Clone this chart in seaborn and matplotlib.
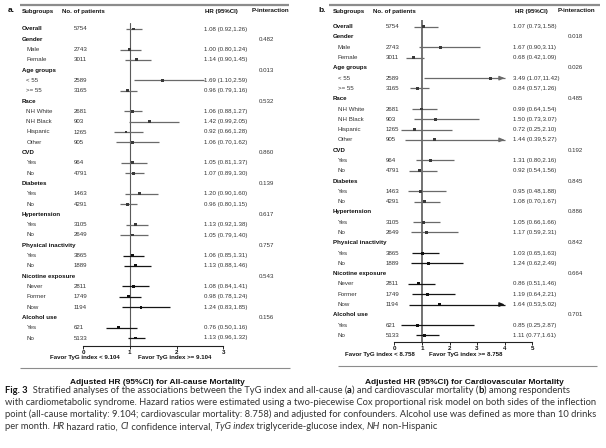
import numpy as np
import pandas as pd
import matplotlib
matplotlib.use("Agg")
import matplotlib.pyplot as plt
import seaborn as sns

# ---------------- data ----------------
subgroups = ["Overall", "Gender", "Male", "Female", "Age groups", "< 55", ">= 55",
             "Race", "NH White", "NH Black", "Hispanic", "Other", "CVD", "Yes", "No",
             "Diabetes", "Yes", "No", "Hypertension", "Yes", "No",
             "Physical inactivity", "Yes", "No", "Nicotine exposure", "Never", "Former", "Now",
             "Alcohol use", "Yes", "No"]
is_header = [1, 1, 0, 0, 1, 0, 0, 1, 0, 0, 0, 0, 1, 0, 0, 1, 0, 0, 1, 0, 0,
             1, 0, 0, 1, 0, 0, 0, 1, 0, 0]
nan = np.nan
n_patients = [5754, nan, 2743, 3011, nan, 2589, 3165, nan, 2681, 903, 1265, 905, nan, 964, 4791,
              nan, 1463, 4291, nan, 3105, 2649, nan, 3865, 1889, nan, 2811, 1749, 1194, nan, 621, 5133]

hr_a = [1.08, nan, 1.00, 1.14, nan, 1.69, 0.96, nan, 1.06, 1.42, 0.92, 1.06, nan, 1.05, 1.07,
        nan, 1.20, 0.96, nan, 1.13, 1.05, nan, 1.06, 1.13, nan, 1.08, 0.98, 1.24, nan, 0.76, 1.13]
lo_a = [0.92, nan, 0.80, 0.90, nan, 1.10, 0.79, nan, 0.88, 0.99, 0.66, 0.70, nan, 0.81, 0.89,
        nan, 0.90, 0.80, nan, 0.92, 0.79, nan, 0.85, 0.88, nan, 0.84, 0.78, 0.83, nan, 0.50, 0.96]
hi_a = [1.26, nan, 1.24, 1.45, nan, 2.59, 1.16, nan, 1.27, 2.05, 1.28, 1.62, nan, 1.37, 1.30,
        nan, 1.60, 1.15, nan, 1.38, 1.40, nan, 1.31, 1.46, nan, 1.41, 1.24, 1.85, nan, 1.16, 1.32]
p_a = ["", "0.482", "", "", "0.013", "", "", "0.532", "", "", "", "", "0.860", "", "",
       "0.139", "", "", "0.617", "", "", "0.757", "", "", "0.543", "", "", "", "0.156", "", ""]

hr_b = [1.07, nan, 1.67, 0.68, nan, 3.49, 0.84, nan, 0.99, 1.50, 0.72, 1.44, nan, 1.31, 0.92,
        nan, 0.95, 1.08, nan, 1.05, 1.17, nan, 1.03, 1.24, nan, 0.86, 1.19, 1.64, nan, 0.85, 1.11]
lo_b = [0.73, nan, 0.90, 0.42, nan, 1.07, 0.57, nan, 0.64, 0.73, 0.25, 0.39, nan, 0.80, 0.54,
        nan, 0.48, 0.70, nan, 0.66, 0.59, nan, 0.65, 0.62, nan, 0.51, 0.64, 0.53, nan, 0.25, 0.77]
hi_b = [1.58, nan, 3.11, 1.09, nan, 11.42, 1.26, nan, 1.54, 3.07, 2.10, 5.27, nan, 2.16, 1.56,
        nan, 1.88, 1.67, nan, 1.66, 2.31, nan, 1.63, 2.49, nan, 1.46, 2.21, 5.02, nan, 2.87, 1.61]
p_b = ["", "0.018", "", "", "0.026", "", "", "0.485", "", "", "", "", "0.192", "", "",
       "0.845", "", "", "0.886", "", "", "0.842", "", "", "0.664", "", "", "", "0.701", "", ""]

ticks_a = [0, 1, 2, 3]
ticks_b = [0, 1, 2, 3, 4, 5]
cut_a = "9.104"
cut_b = "8.758"
title_a = "Adjusted HR (95%CI) for All-cause Mortality"
title_b = "Adjusted HR (95%CI) for Cardiovascular Mortality"

caption = [
    [("Fig. 3", "bold", "normal"), ("  Stratified analyses of the associations between the TyG index and all-cause (", "normal", "normal"),
     ("a", "bold", "normal"), (") and cardiovascular mortality (", "normal", "normal"), ("b", "bold", "normal"),
     (") among respondents", "normal", "normal")],
    [("with cardiometabolic syndrome. Hazard ratios were estimated using a two-piecewise Cox proportional risk model on both sides of the inflection", "normal", "normal")],
    [("point (all-cause mortality: 9.104; cardiovascular mortality: 8.758) and adjusted for confounders. Alcohol use was defined as more than 10 drinks", "normal", "normal")],
    [("per month. ", "normal", "normal"), ("HR", "normal", "italic"), (" hazard ratio, ", "normal", "normal"),
     ("CI", "normal", "italic"), (" confidence interval, ", "normal", "normal"), ("TyG index", "normal", "italic"),
     (" triglyceride-glucose index, ", "normal", "normal"), ("NH", "normal", "italic"), (" non-Hispanic", "normal", "normal")],
]

# ---------------- figure ----------------
sns.set_theme(style="white")
plt.rcParams["font.family"] = ["Liberation Sans", "DejaVu Sans"]
W, H = 606, 448
fig = plt.figure(figsize=(W / 100, H / 100), dpi=100)
fig.patch.set_facecolor("white")

ov = fig.add_axes([0, 0, 1, 1])
ov.set_xlim(0, W)
ov.set_ylim(H, 0)
ov.axis("off")
ov.patch.set_alpha(0)

FS = 4.45
DARK = "#111111"
MID = "#333333"
LIGHT_LINE = "#6a6a6a"
DARK_LINE = "#151515"


def panel(letter, lx, x_sub, x_item, x_n, x_hr, x_p, hdr_x, line_x, bot_line, y0, dy,
          ax_l, ax_r, ax_t, ax_b, xmax, ticks, hr, lo, hi, pv, cut, title, title_x,
          fav_x, ref_lw, clip):
    ov.plot(line_x, [4.8, 4.8], color="#8c8c8c", lw=1.6, solid_capstyle="butt")
    ov.plot(bot_line[0], [bot_line[1]] * 2, color="#8c8c8c", lw=0.8, solid_capstyle="butt")
    ov.text(lx, 11, letter, fontsize=6.0, fontweight="bold", color=DARK, va="center")
    for txt, hx in zip(["Subgroups", "No. of patients", "HR (95%CI)", "P-interaction"], hdr_x):
        ov.text(hx, 11, txt, fontsize=FS, fontweight="bold", color=DARK, va="center")
    for i, lab in enumerate(subgroups):
        y = y0 + i * dy
        if is_header[i]:
            ov.text(x_sub, y, lab, fontsize=FS, fontweight="bold", color=DARK, va="center")
        else:
            ov.text(x_item, y, lab, fontsize=FS, color=MID, va="center")
        if not np.isnan(n_patients[i]):
            ov.text(x_n, y, f"{int(n_patients[i])}", fontsize=FS, color=MID, va="center")
        if not np.isnan(hr[i]):
            ov.text(x_hr, y, f"{hr[i]:.2f} ({lo[i]:.2f},{hi[i]:.2f})", fontsize=FS, color=MID, va="center")
        if pv[i]:
            ov.text(x_p, y, pv[i], fontsize=FS, color=MID, va="center")

    ax = fig.add_axes([ax_l / W, 1 - ax_b / H, (ax_r - ax_l) / W, (ax_b - ax_t) / H])
    ax.patch.set_visible(False)
    df = pd.DataFrame({"row": np.arange(len(subgroups)), "hr": hr, "lo": lo, "hi": hi}).dropna()
    df["tone"] = np.where(df["row"] >= 21, "dark", "light")
    df["hi_c"] = np.minimum(df["hi"], clip)
    for tone, col in [("light", LIGHT_LINE), ("dark", DARK_LINE)]:
        d = df[df.tone == tone]
        ax.hlines(d["row"].to_numpy(), d["lo"].to_numpy(), d["hi_c"].to_numpy(), colors=col, lw=0.9, zorder=2)
    arr = df[df["hi"] > clip]
    for _, r in arr.iterrows():
        col = DARK_LINE if r["tone"] == "dark" else LIGHT_LINE
        ax.annotate("", xy=(r["hi_c"], r["row"]), xytext=(r["hi_c"] - 0.2, r["row"]),
                    arrowprops=dict(arrowstyle="-|>,head_length=0.6,head_width=0.25",
                                    mutation_scale=5, color=col, lw=0.9,
                                    shrinkA=0, shrinkB=0), zorder=3)
    sns.scatterplot(data=df, x="hr", y="row", hue="tone", palette={"light": "#3a3a3a", "dark": "#111111"},
                    marker="s", s=4.5, linewidth=0, ax=ax, legend=False, zorder=4)
    ax.axvline(1, color="#5a5a5a", lw=ref_lw, zorder=1)
    ax.set_xlim(0, xmax)
    ax.set_ylim((ax_b - y0) / dy, (ax_t - y0) / dy)
    ax.set_yticks([])
    ax.set_xticks(ticks)
    ax.set_xticklabels([str(t) for t in ticks], fontweight="bold")
    ax.set_xlabel("")
    ax.set_ylabel("")
    for s in ["top", "right", "left"]:
        ax.spines[s].set_visible(False)
    ax.spines["bottom"].set_color("#222222")
    ax.spines["bottom"].set_linewidth(0.8)
    ax.tick_params(axis="x", bottom=True, length=2.2, width=0.7, color="#222222",
                   labelsize=4.5, pad=0.6, labelcolor=DARK)

    ov.text(fav_x[0], ax_b + 12, f"Favor TyG index < {cut}", fontsize=FS, fontweight="bold",
            color=DARK, ha="center", va="center")
    ov.text(fav_x[1], ax_b + 12, f"Favor TyG index >= {cut}", fontsize=FS, fontweight="bold",
            color=DARK, ha="center", va="center")
    ov.text(title_x, 382, title, fontsize=6.0, fontweight="bold", color=DARK, ha="center", va="center")


panel("a.", 8, 22, 26.5, 74, 204, 259, [22, 62, 205, 252], [20, 289], ([20, 290], 368),
      29.0, 10.3, 83.0, 223.3, 22.7, 345.7, 3, ticks_a, hr_a, lo_a, hi_a, p_a, cut_a, title_a, 157,
      (85, 175), 0.8, 99)
panel("b.", 318, 333, 338, 386, 513, 568, [333, 373, 515, 558], [329, 600], ([338, 597], 366),
      26.7, 10.29, 394.3, 532.3, 20.0, 342.3, 5, ticks_b, hr_b, lo_b, hi_b, p_b, cut_b, title_b, 464,
      (380, 466), 1.2, 4)

# ---------------- caption ----------------
renderer = fig.canvas.get_renderer()
probe = fig.text(0, 0, caption[1][0][0], fontsize=10, family="Lato")
pw = probe.get_window_extent(renderer=renderer).width
probe.remove()
cfs = 10 * 593 / pw
for li, segs in enumerate(caption):
    x = 5.0
    y = 390 + li * 12.3
    for s, w, st in segs:
        t = fig.text(x / W, 1 - y / H, s, fontsize=cfs, fontweight=w, fontstyle=st, family="Lato",
                     color="#111111" if w == "bold" else "#333333", va="center")
        x += t.get_window_extent(renderer=renderer).width

fig.savefig("out.png", dpi=100, facecolor="white")
